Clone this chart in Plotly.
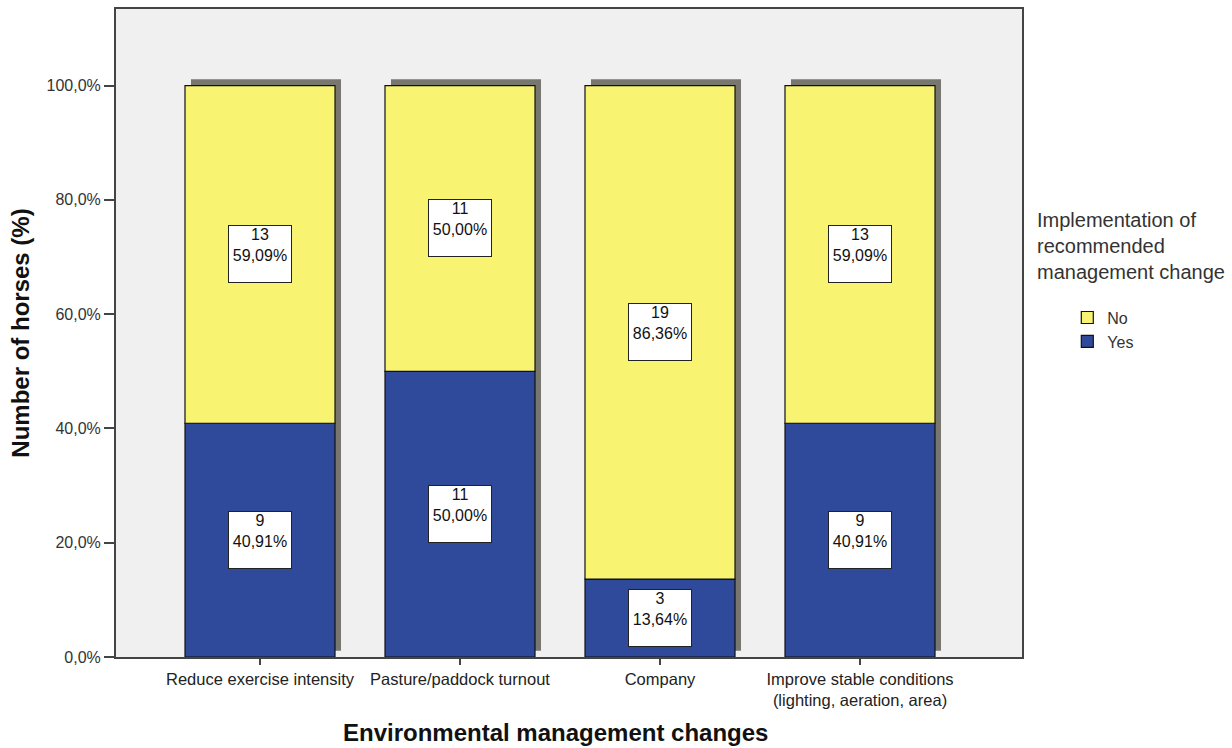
import plotly.graph_objects as go

categories = ["Reduce exercise intensity", "Pasture/paddock turnout", "Company",
              "Improve stable conditions<br>(lighting, aeration, area)"]
yes_counts = [9, 11, 3, 9]
no_counts = [13, 11, 19, 13]
yes_pct = [40.91, 50.00, 13.64, 40.91]
no_pct = [59.09, 50.00, 86.36, 59.09]
total_pct = [100, 100, 100, 100]
y_tick_vals = [0, 20, 40, 60, 80, 100]
y_tick_text = ["0,0%", "20,0%", "40,0%", "60,0%", "80,0%", "100,0%"]

YELLOW = "#F8F471"
BLUE = "#2F4A9A"
FONT = "Liberation Sans, Arial, sans-serif"
BW = 0.75

fig = go.Figure()

# drop shadow behind each stacked bar
fig.add_trace(go.Bar(
    x=categories, y=total_pct, base=[1.1] * len(categories),
    width=BW, offset=-BW / 2 + 0.03,
    marker=dict(color="#77776F", line=dict(width=0)),
    showlegend=False, hoverinfo="skip"))

fig.add_trace(go.Bar(
    x=categories, y=yes_pct, base=[0] * len(categories), name="Yes",
    width=BW, offset=-BW / 2,
    marker=dict(color=BLUE, line=dict(color="#111111", width=1.2))))
fig.add_trace(go.Bar(
    x=categories, y=no_pct, base=yes_pct, name="No",
    width=BW, offset=-BW / 2,
    marker=dict(color=YELLOW, line=dict(color="#111111", width=1.2))))

annotations = []
for i, c in enumerate(categories):
    for cnt, pct, base in ((yes_counts[i], yes_pct[i], 0), (no_counts[i], no_pct[i], yes_pct[i])):
        annotations.append(dict(
            x=c, y=base + pct / 2, xref="x", yref="y",
            text=f"{cnt}<br>{pct:.2f}%".replace(".", ","),
            showarrow=False, bgcolor="white", bordercolor="#222222", borderwidth=1,
            borderpad=0, width=62, height=56, valign="top",
            font=dict(family=FONT, size=16, color="#111111")))

annotations.append(dict(
    x=1.014, y=0.695, xref="paper", yref="paper", xanchor="left", yanchor="top",
    text="Implementation of<br>recommended<br>management change", align="left",
    showarrow=False, font=dict(family=FONT, size=20, color="#333333")))

# x-axis title (sits slightly left of the plot centre in the original)
annotations.append(dict(
    x=0.4846, y=-0.117, xref="paper", yref="paper", xanchor="center", yanchor="middle",
    text="<b>Environmental management changes</b>", showarrow=False,
    font=dict(family=FONT, size=24, color="#111111")))

fig.update_layout(
    width=1232, height=748,
    margin=dict(l=116, r=210, t=7, b=91),
    paper_bgcolor="white", plot_bgcolor="#F0F0F0",
    barmode="overlay", bargap=0.25,
    separators=",.",
    font=dict(family=FONT, size=15, color="#222222"),
    annotations=annotations,
    legend=dict(x=1.05, y=0.55, xanchor="left", yanchor="top",
                traceorder="reversed", font=dict(family=FONT, size=16, color="#333333"),
                itemwidth=30, tracegroupgap=0, bgcolor="rgba(0,0,0,0)"),
    xaxis=dict(
        type="category", range=[-0.72, 3.81],
        showline=True, linecolor="#444444", linewidth=2, mirror=True,
        ticks="outside", ticklen=6, tickcolor="#444444", tickwidth=1.5,
        tickfont=dict(family=FONT, size=16.5, color="#222222"),
        showgrid=False),
    yaxis=dict(
        range=[0, 113.4], tickvals=y_tick_vals, ticktext=y_tick_text,
        showline=True, linecolor="#444444", linewidth=2, mirror=True,
        ticks="outside", ticklen=10, tickcolor="#444444", tickwidth=1.5,
        tickfont=dict(family=FONT, size=16, color="#333333"),
        title=dict(text="<b>Number of horses (%)</b>",
                   font=dict(family=FONT, size=24, color="#111111"), standoff=10),
        showgrid=False, zeroline=False),
)

fig.write_html("out.html")
